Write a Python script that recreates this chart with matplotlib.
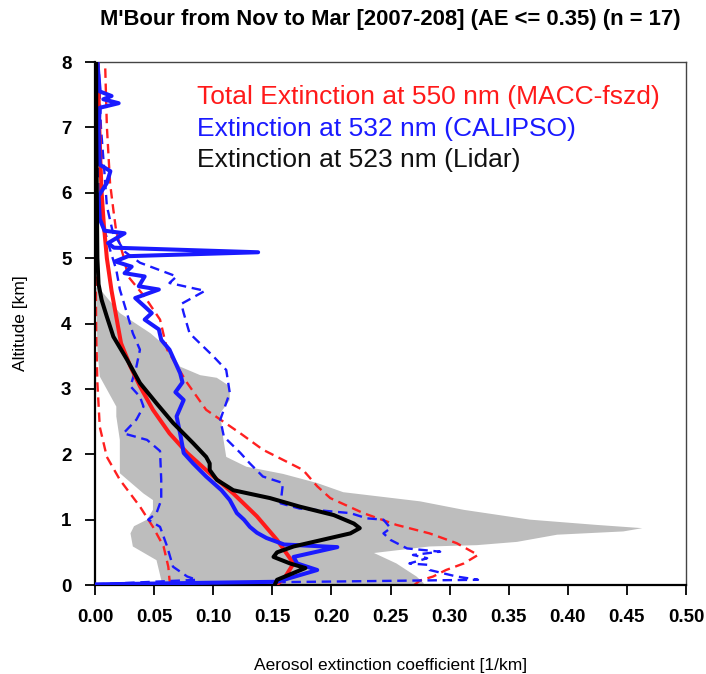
"""Mean aerosol extinction profiles over M'Bour (MACC, CALIPSO, lidar)."""

import numpy as np
from matplotlib import pyplot as plt

# MACC-fszd total extinction at 550 nm: mean and mean +/- std
macc_alt = [0.0, 0.1, 0.33, 0.69, 1.05, 1.40, 1.71, 2.02, 2.32, 2.68, 3.04, 3.34,
            3.70, 4.0, 4.5, 5.0, 5.5, 6.0, 6.5, 7.0, 7.5, 8.0]
macc_ext = [0.153, 0.160, 0.168, 0.154, 0.137, 0.117, 0.097, 0.078, 0.063, 0.049,
            0.038, 0.030, 0.022, 0.019, 0.014, 0.010, 0.0075, 0.0056, 0.0045,
            0.0036, 0.003, 0.002]
macc_lo_alt = [0.0, 0.08, 0.28, 0.59, 0.89, 1.20, 1.61, 1.96, 2.42, 3.09, 3.85, 5.0, 8.0]
macc_lo_ext = [0.064, 0.063, 0.062, 0.058, 0.049, 0.038, 0.021, 0.010, 0.004, 0.002,
               0.001, 0.0005, 0.0]
macc_hi_alt = [0.0, 0.07, 0.13, 0.23, 0.33, 0.46, 0.64, 0.79, 0.92, 1.10, 1.33, 1.51,
               1.76, 2.07, 2.32, 2.68, 3.09, 3.60, 4.06, 4.41, 4.72, 5.03, 5.40, 5.74,
               6.15, 7.02, 8.0]
macc_hi_ext = [0.27, 0.275, 0.286, 0.297, 0.312, 0.324, 0.306, 0.283, 0.255, 0.227,
               0.199, 0.188, 0.176, 0.142, 0.123, 0.094, 0.078, 0.061, 0.055, 0.042,
               0.028, 0.024, 0.018, 0.0155, 0.0127, 0.010, 0.0085]

# CALIPSO extinction at 532 nm: mean and mean +/- std
cal_alt = [0.01, 0.05, 0.23, 0.33, 0.43, 0.58, 0.62, 0.72, 0.80, 0.89, 1.00, 1.10,
           1.30, 1.45, 1.66, 1.86, 2.02, 2.32, 2.58, 2.83, 2.95, 3.10, 3.24, 3.60,
           3.75, 3.91, 4.06, 4.16, 4.26, 4.39, 4.52, 4.57, 4.72, 4.77, 4.87, 4.95,
           5.03, 5.09, 5.16, 5.23, 5.38, 5.42, 5.6, 5.95, 6.15, 6.33, 6.43, 7.0,
           7.3, 7.37, 7.43, 7.48, 7.55, 8.0]
cal_ext = [0.000, 0.154, 0.188, 0.171, 0.168, 0.205, 0.160, 0.145, 0.137, 0.131,
           0.126, 0.120, 0.114, 0.107, 0.094, 0.083, 0.075, 0.072, 0.069, 0.075,
           0.068, 0.074, 0.072, 0.063, 0.056, 0.054, 0.042, 0.048, 0.042, 0.034,
           0.054, 0.037, 0.042, 0.025, 0.031, 0.017, 0.028, 0.138, 0.016, 0.011,
           0.025, 0.008, 0.004, 0.003, 0.010, 0.013, 0.004, 0.003, 0.004, 0.020,
           0.007, 0.014, 0.004, 0.002]
cal_lo_alt = [0.01, 0.08, 0.13, 0.28, 0.59, 0.89, 1.0, 1.10, 1.30, 1.61, 2.05, 2.22,
              2.32, 2.53, 2.73, 2.88, 3.04, 3.34, 3.60, 3.85, 4.16, 4.52, 4.82, 5.13,
              5.5, 6.0, 7.0, 8.0]
cal_lo_ext = [0.0, 0.086, 0.078, 0.066, 0.061, 0.055, 0.045, 0.052, 0.056, 0.056,
              0.055, 0.044, 0.024, 0.035, 0.041, 0.038, 0.030, 0.035, 0.038, 0.032,
              0.027, 0.021, 0.018, 0.0127, 0.007, 0.004, 0.002, 0.001]
cal_hi_alt = [0.01, 0.08, 0.13, 0.23, 0.31, 0.33, 0.41, 0.46, 0.51, 0.56, 0.69, 0.79,
              0.87, 1.0, 1.02, 1.10, 1.17, 1.25, 1.56, 1.66, 1.86, 2.02, 2.27, 2.53,
              2.94, 3.29, 3.50, 3.85, 4.16, 4.30, 4.50, 4.62, 4.72, 4.93, 5.1, 5.4,
              5.8, 6.3, 7.0, 8.0]
cal_hi_ext = [0.0, 0.324, 0.306, 0.283, 0.281, 0.266, 0.281, 0.269, 0.292, 0.264,
              0.250, 0.244, 0.250, 0.244, 0.230, 0.216, 0.173, 0.157, 0.159, 0.142,
              0.131, 0.123, 0.109, 0.106, 0.114, 0.111, 0.100, 0.080, 0.075, 0.073,
              0.093, 0.063, 0.069, 0.038, 0.025, 0.015, 0.010, 0.008, 0.005, 0.003]

# ground lidar extinction at 523 nm: mean and mean +/- std envelope
lid_alt = [0.0, 0.08, 0.26, 0.33, 0.43, 0.50, 0.59, 0.69, 0.79, 0.87, 0.94, 1.07,
           1.20, 1.33, 1.45, 1.61, 1.76, 1.86, 1.96, 2.17, 2.48, 2.78, 3.09, 3.45,
           3.80, 4.11, 4.36, 4.6, 5.0, 6.0, 7.0, 8.0]
lid_ext = [0.152, 0.154, 0.178, 0.165, 0.151, 0.154, 0.168, 0.192, 0.216, 0.224,
           0.219, 0.202, 0.173, 0.148, 0.117, 0.103, 0.097, 0.097, 0.094, 0.083,
           0.066, 0.052, 0.038, 0.027, 0.0155, 0.0099, 0.0056, 0.003, 0.002,
           0.0015, 0.001, 0.001]
lid_lo_alt = [0.0, 0.08, 0.38, 0.59, 0.79, 0.9, 1.0, 1.15, 1.30, 1.40, 1.71, 2.22,
              2.58, 2.73, 3.19, 3.6, 4.55]
lid_lo_ext = [0.056, 0.056, 0.052, 0.032, 0.030, 0.033, 0.044, 0.049, 0.049, 0.041,
              0.021, 0.021, 0.018, 0.018, 0.004, 0.002, 0.001]
lid_hi_alt = [0.0, 0.03, 0.13, 0.33, 0.49, 0.59, 0.61, 0.66, 0.77, 0.82, 0.87, 0.92,
              1.0, 1.15, 1.28, 1.42, 1.56, 1.70, 1.81, 1.96, 2.30, 2.63, 2.83, 3.04,
              3.17, 3.21, 3.34, 3.60, 3.85, 4.16, 4.55]
lid_hi_ext = [0.278, 0.278, 0.272, 0.255, 0.236, 0.283, 0.323, 0.357, 0.391, 0.447,
              0.463, 0.424, 0.368, 0.312, 0.275, 0.21, 0.188, 0.159, 0.128, 0.111,
              0.108, 0.106, 0.114, 0.114, 0.103, 0.089, 0.072, 0.063, 0.047, 0.021,
              0.003]

legend_lines = [
    ("Total Extinction at 550 nm (MACC-fszd)", "#ff1a1a"),
    ("Extinction at 532 nm (CALIPSO)", "#1a1aff"),
    ("Extinction at 523 nm (Lidar)", "#111111"),
]

plt.rcParams["font.family"] = ["Liberation Sans", "DejaVu Sans"]

fig = plt.figure(figsize=(7.06, 6.74), dpi=100)
ax = fig.add_axes([0.1346, 0.132, 0.8371, 0.776])

# std envelope of the lidar profiles
env_x = np.concatenate([lid_lo_ext, lid_hi_ext[::-1]])
env_y = np.concatenate([lid_lo_alt, lid_hi_alt[::-1]])
ax.fill(env_x, env_y, color="#bdbdbd", lw=0, zorder=1)

dash = (4, 2.4)
ax.plot(macc_lo_ext, macc_lo_alt, color="#ff2020", lw=1.7, dashes=dash, zorder=2)
ax.plot(macc_hi_ext, macc_hi_alt, color="#ff2020", lw=1.7, dashes=dash, zorder=2)
ax.plot(cal_lo_ext, cal_lo_alt, color="#1a1aff", lw=1.7, dashes=dash, zorder=3)
ax.plot(cal_hi_ext, cal_hi_alt, color="#1a1aff", lw=1.7, dashes=dash, zorder=3)

ax.plot(macc_ext, macc_alt, color="#ff1a1a", lw=2.9, zorder=4)
ax.plot(cal_ext, cal_alt, color="#1a1aff", lw=2.9, zorder=5)
ax.plot(lid_ext, lid_alt, color="black", lw=2.9, zorder=6)

for i, (text, col) in enumerate(legend_lines):
    ax.text(0.1726, 0.933 - i * 0.0605, text, color=col, fontsize=19,
            ha="left", va="center", transform=ax.transAxes)

ax.set_xlim(0, 0.5)
ax.set_ylim(0, 8)
ax.set_xticks(np.arange(0, 0.501, 0.05))
ax.set_xticklabels([f"{v:.2f}" for v in np.arange(0, 0.501, 0.05)])
ax.set_yticks(range(9))
ax.tick_params(direction="out", length=7, width=1.3, labelsize=13.5, pad=10,
               top=False, right=False)
for lab in ax.get_xticklabels() + ax.get_yticklabels():
    lab.set_fontweight("bold")
for side in ("left", "bottom"):
    ax.spines[side].set_linewidth(1.6)
for side in ("top", "right"):
    ax.spines[side].set_linewidth(1.0)
    ax.spines[side].set_color("#444444")

ax.set_title("M'Bour from Nov to Mar [2007-208] (AE <= 0.35) (n = 17)",
             fontsize=15.8, fontweight="bold", pad=27)
ax.set_xlabel("Aerosol extinction coefficient [1/km]", fontsize=12.5, labelpad=23)
ax.set_ylabel("Altitude [km]", fontsize=12.5, labelpad=24)

fig.savefig("out.png", dpi=100)
